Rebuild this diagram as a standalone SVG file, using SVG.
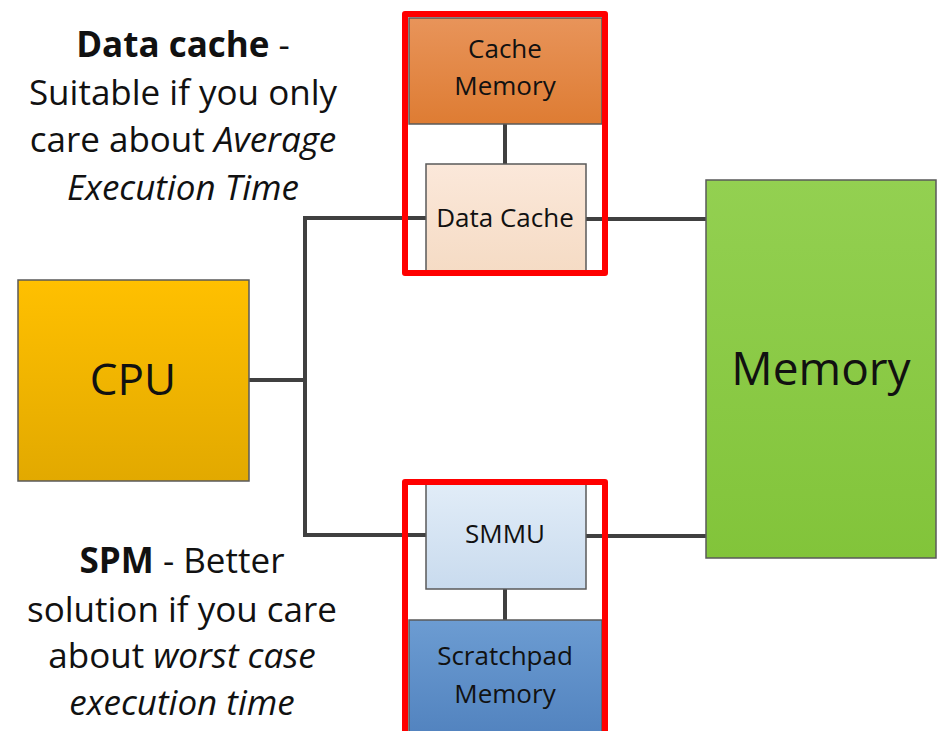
<svg xmlns="http://www.w3.org/2000/svg" width="937" height="731" viewBox="0 0 937 731">
<defs>
<linearGradient id="gCpu" x1="0" y1="0" x2="0" y2="1"><stop offset="0" stop-color="#FFC000"/><stop offset="1" stop-color="#E2A900"/></linearGradient>
<linearGradient id="gMem" x1="0" y1="0" x2="0" y2="1"><stop offset="0" stop-color="#93D051"/><stop offset="1" stop-color="#82C43A"/></linearGradient>
<linearGradient id="gCm" x1="0" y1="0" x2="0" y2="1"><stop offset="0" stop-color="#E8945A"/><stop offset="1" stop-color="#DE7C33"/></linearGradient>
<linearGradient id="gDc" x1="0" y1="0" x2="0" y2="1"><stop offset="0" stop-color="#FBE8DA"/><stop offset="1" stop-color="#F5DBC4"/></linearGradient>
<linearGradient id="gSm" x1="0" y1="0" x2="0" y2="1"><stop offset="0" stop-color="#E2EDF8"/><stop offset="1" stop-color="#C9DBEE"/></linearGradient>
<linearGradient id="gSp" x1="0" y1="0" x2="0" y2="1"><stop offset="0" stop-color="#6C9CD2"/><stop offset="1" stop-color="#5283BF"/></linearGradient>
</defs>
<style>
.box{stroke:#5a5a5a;stroke-width:1.5}
.lbl{font-family:"Open Sans","Liberation Sans",sans-serif;fill:#111;text-anchor:middle}
.note{font-family:"Open Sans","Liberation Sans",sans-serif;fill:#111;text-anchor:middle;font-size:35px}
.conn{stroke:#404040;stroke-width:4;fill:none}
.red{fill:none;stroke:#FF0000;stroke-width:6;stroke-linejoin:round}
</style>
<rect width="937" height="731" fill="#fff"/>
<g id="connectors">
<polyline class="conn" points="305,218 305,535"/>
<line class="conn" x1="249" y1="380" x2="305" y2="380"/>
<line class="conn" x1="303" y1="218" x2="426" y2="218"/>
<line class="conn" x1="303" y1="535" x2="426" y2="535"/>
<line class="conn" x1="586" y1="219" x2="706" y2="219"/>
<line class="conn" x1="586" y1="536" x2="706" y2="536"/>
<line class="conn" x1="505" y1="124" x2="505" y2="165"/>
<line class="conn" x1="505" y1="589" x2="505" y2="620"/>
</g>
<g id="cpu">
<rect class="box" x="18" y="280" width="231" height="201" fill="url(#gCpu)"/>
<text class="lbl" x="133" y="395" font-size="44">CPU</text>
</g>
<g id="memory">
<rect class="box" x="706" y="180" width="230" height="378" fill="url(#gMem)"/>
<text class="lbl" x="821" y="385" font-size="46">Memory</text>
</g>
<g id="cache-memory">
<rect class="box" x="409" y="18" width="193" height="106" fill="url(#gCm)"/>
<text class="lbl" x="505" y="58" font-size="26">Cache</text>
<text class="lbl" x="505" y="95" font-size="26">Memory</text>
</g>
<g id="data-cache">
<rect class="box" x="426" y="164" width="160" height="110" fill="url(#gDc)"/>
<text class="lbl" x="505" y="227" font-size="26">Data Cache</text>
</g>
<g id="smmu">
<rect class="box" x="426" y="480" width="160" height="109" fill="url(#gSm)"/>
<text class="lbl" x="505" y="543" font-size="26">SMMU</text>
</g>
<g id="scratchpad-memory">
<rect class="box" x="409" y="620" width="193" height="115" fill="url(#gSp)"/>
<text class="lbl" x="505" y="665" font-size="26">Scratchpad</text>
<text class="lbl" x="505" y="703" font-size="26">Memory</text>
</g>
<g id="cache-group">
<rect class="red" x="405" y="14" width="200" height="259"/>
</g>
<g id="spm-group">
<rect class="red" x="405" y="482" width="200" height="260"/>
</g>
<g id="data-cache-note">
<text class="note" x="183" y="57"><tspan font-weight="bold">Data cache</tspan> -</text>
<text class="note" x="183" y="105">Suitable if you only</text>
<text class="note" x="183" y="152">care about <tspan font-style="italic">Average</tspan></text>
<text class="note" x="183" y="200" font-style="italic">Execution Time</text>
</g>
<g id="spm-note">
<text class="note" x="182" y="573"><tspan font-weight="bold">SPM</tspan> - Better</text>
<text class="note" x="182" y="622">solution if you care</text>
<text class="note" x="182" y="668">about <tspan font-style="italic">worst case</tspan></text>
<text class="note" x="182" y="715" font-style="italic">execution time</text>
</g>
</svg>
